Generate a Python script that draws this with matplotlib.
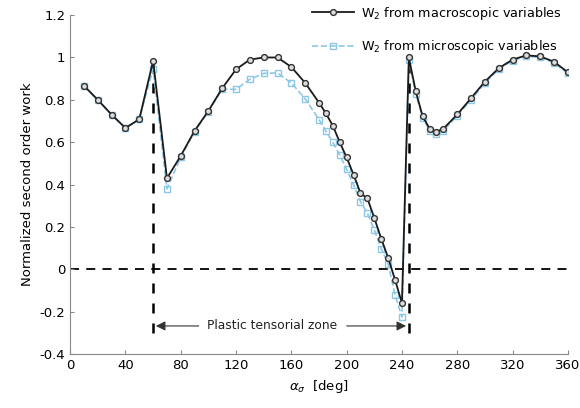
import matplotlib.pyplot as plt

# angles (deg) and normalized second order work
alpha = [10, 20, 30, 40, 50, 60, 70, 80, 90, 100, 110, 120, 130, 140, 150,
         160, 170, 180, 185, 190, 195, 200, 205, 210, 215, 220, 225, 230,
         235, 240, 245, 250, 255, 260, 265, 270, 280, 290, 300, 310, 320,
         330, 340, 350, 360]

w2_macro = [0.866, 0.80, 0.73, 0.667, 0.709, 0.984, 0.43, 0.536, 0.654,
            0.748, 0.855, 0.944, 0.99, 1.0, 1.0, 0.955, 0.88, 0.787, 0.736,
            0.678, 0.60, 0.528, 0.447, 0.36, 0.335, 0.243, 0.145, 0.055,
            -0.049, -0.159, 1.0, 0.84, 0.722, 0.664, 0.65, 0.664, 0.731,
            0.808, 0.886, 0.949, 0.99, 1.01, 1.005, 0.98, 0.93]

w2_micro = [0.866, 0.80, 0.73, 0.667, 0.709, 0.947, 0.38, 0.53, 0.65,
            0.745, 0.85, 0.85, 0.897, 0.925, 0.927, 0.88, 0.805, 0.707,
            0.652, 0.60, 0.54, 0.472, 0.40, 0.32, 0.265, 0.186, 0.098,
            0.027, -0.12, -0.225, 0.99, 0.83, 0.715, 0.655, 0.64, 0.655,
            0.725, 0.80, 0.88, 0.945, 0.985, 1.005, 1.0, 0.975, 0.925]

zone_start = 60
zone_end = 245

fig = plt.figure(figsize=(5.8, 4.08), dpi=100)
ax = fig.add_axes([0.121, 0.132, 0.858, 0.831])

blue = "#8cc8e6"
ax.plot(alpha, w2_micro, "--s", color=blue, lw=1.2, ms=4, mfc="none",
        mec=blue, mew=1.0, zorder=2, label="W$_2$ from microscopic variables")
ax.plot(alpha, w2_macro, "-o", color="#1a1a1a", lw=1.3, ms=4.2,
        mfc="#dddddd", mec="#333333", mew=1.0, zorder=3,
        label="W$_2$ from macroscopic variables")

# zero line and zone boundaries
ax.axhline(0, color="black", ls=(0, (5, 4)), lw=1.3, zorder=1)
ax.plot([zone_start, zone_start], [-0.3, 0.99], color="black",
        ls=(0, (4, 4)), lw=1.8, zorder=1)
ax.plot([zone_end, zone_end], [-0.3, 1.0], color="black",
        ls=(0, (4, 4)), lw=1.8, zorder=1)

ax.annotate("", xy=(zone_start, -0.267), xytext=(95, -0.267),
            arrowprops=dict(arrowstyle="-|>", color="#333333", lw=0.8,
                            mutation_scale=14))
ax.annotate("", xy=(zone_end, -0.267), xytext=(198, -0.267),
            arrowprops=dict(arrowstyle="-|>", color="#333333", lw=0.8,
                            mutation_scale=14))
ax.text(146, -0.267, "Plastic tensorial zone", ha="center", va="center",
        fontsize=8.8, color="#222222")

ax.set_xlim(0, 360)
ax.set_ylim(-0.4, 1.2)
ax.set_xticks(range(0, 361, 40))
ax.set_yticks([-0.4, -0.2, 0, 0.2, 0.4, 0.6, 0.8, 1, 1.2])
ax.set_yticklabels(["-0.4", "-0.2", "0", "0.2", "0.4", "0.6", "0.8", "1", "1.2"])
ax.tick_params(direction="in", length=3, labelsize=9.5, color="#888888")
ax.spines["top"].set_visible(False)
ax.spines["right"].set_visible(False)
ax.spines["left"].set_color("#888888")
ax.spines["bottom"].set_color("#888888")

ax.set_xlabel(r"$\alpha_\sigma$  [deg]", fontsize=9.5)
ax.set_ylabel("Normalized second order work", fontsize=9.5)

handles, labels = ax.get_legend_handles_labels()
ax.legend(handles[::-1], labels[::-1], loc="upper right", frameon=False,
          fontsize=9.2, handlelength=3.3, handletextpad=0.5, labelspacing=1.3,
          bbox_to_anchor=(1.01, 1.065))

plt.savefig("out.png", dpi=100)
